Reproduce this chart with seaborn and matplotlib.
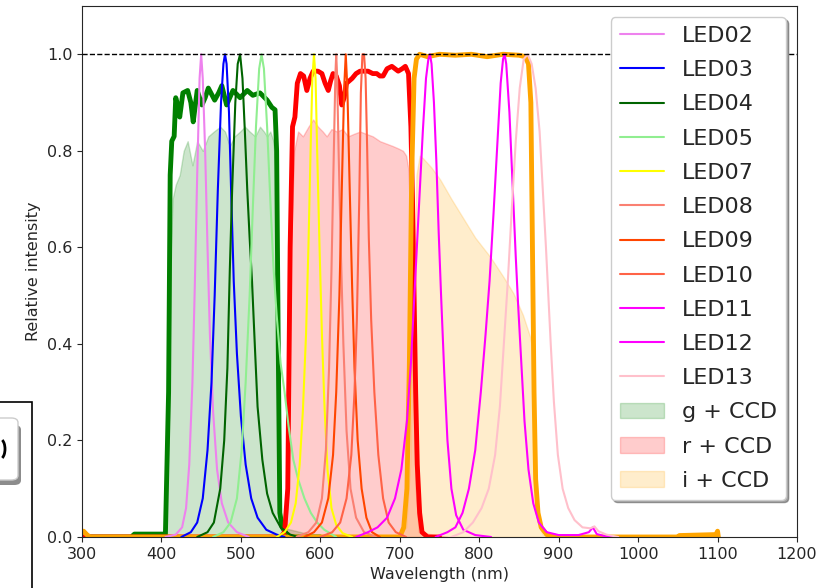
import matplotlib
matplotlib.use("Agg")
import matplotlib.pyplot as plt
from matplotlib.patches import Rectangle, FancyBboxPatch, Arc
import seaborn as sns

# LED spectra (wavelength in nm, relative intensity)
LED02_WL = [405, 418, 426, 431, 435, 439, 442, 445, 448, 450, 452, 455, 458, 461, 465, 470, 476, 484, 495, 510]
LED02_VAL = [0, 0.005, 0.02, 0.06, 0.15, 0.32, 0.52, 0.75, 0.95, 1.0, 0.95, 0.8, 0.6, 0.42, 0.26, 0.14, 0.07, 0.03, 0.01, 0]

LED03_WL = [425, 437, 445, 452, 458, 463, 467, 471, 475, 478, 480, 482, 485, 488, 491, 495, 500, 506, 513, 521, 532, 545, 555]
LED03_VAL = [0, 0.01, 0.03, 0.08, 0.18, 0.32, 0.5, 0.72, 0.9, 0.98, 1.0, 0.98, 0.88, 0.7, 0.53, 0.38, 0.25, 0.15, 0.08, 0.04, 0.015, 0.005, 0]

LED04_WL = [445, 458, 466, 474, 479, 483, 486, 489, 493, 496, 499, 502, 505, 508, 511, 514, 518, 521, 527, 533, 540, 550, 562, 572]
LED04_VAL = [0, 0.01, 0.03, 0.1, 0.2, 0.35, 0.55, 0.72, 0.9, 0.98, 1.0, 0.95, 0.84, 0.72, 0.62, 0.53, 0.38, 0.27, 0.16, 0.09, 0.05, 0.02, 0.005, 0]

LED05_WL = [465, 478, 487, 495, 501, 506, 511, 515, 519, 523, 526, 529, 533, 537, 541, 545, 550, 555, 560, 566, 572, 580, 588, 596, 605, 620]
LED05_VAL = [0, 0.01, 0.03, 0.08, 0.18, 0.32, 0.5, 0.68, 0.85, 0.97, 1.0, 0.97, 0.85, 0.7, 0.56, 0.46, 0.36, 0.3, 0.23, 0.16, 0.12, 0.08, 0.05, 0.03, 0.015, 0]

LED07_WL = [545, 555, 563, 569, 574, 578, 582, 585, 588, 590, 592, 594, 596, 599, 602, 605, 609, 614, 620, 628, 640]
LED07_VAL = [0, 0.01, 0.03, 0.07, 0.15, 0.26, 0.42, 0.6, 0.82, 0.95, 1.0, 0.95, 0.8, 0.6, 0.42, 0.28, 0.14, 0.06, 0.025, 0.008, 0]

LED08_WL = [570, 585, 595, 602, 607, 611, 614, 617, 619, 620, 621, 623, 626, 629, 633, 638, 645, 655, 670]
LED08_VAL = [0, 0.01, 0.03, 0.08, 0.18, 0.35, 0.55, 0.8, 0.96, 1.0, 0.96, 0.8, 0.58, 0.4, 0.22, 0.1, 0.04, 0.01, 0]

LED09_WL = [580, 592, 602, 610, 616, 620, 624, 627, 630, 632, 634, 637, 640, 643, 647, 652, 658, 665, 675]
LED09_VAL = [0, 0.01, 0.03, 0.08, 0.17, 0.3, 0.5, 0.72, 0.93, 1.0, 0.93, 0.72, 0.52, 0.35, 0.2, 0.1, 0.04, 0.01, 0]

LED10_WL = [600, 615, 625, 633, 639, 643, 646, 649, 651, 653, 655, 657, 659, 661, 664, 668, 673, 679, 686, 695, 708]
LED10_VAL = [0, 0.01, 0.03, 0.08, 0.17, 0.3, 0.45, 0.7, 0.92, 1.0, 1.0, 0.95, 0.8, 0.62, 0.45, 0.3, 0.17, 0.08, 0.03, 0.01, 0]

LED11_WL = [645, 660, 672, 684, 694, 702, 709, 714, 719, 724, 729, 733, 736, 738, 740, 743, 746, 749, 752, 756, 760, 765, 771, 780, 795, 815]
LED11_VAL = [0, 0.01, 0.02, 0.04, 0.08, 0.14, 0.24, 0.36, 0.52, 0.68, 0.84, 0.95, 0.99, 1.0, 0.98, 0.9, 0.78, 0.63, 0.5, 0.34, 0.2, 0.1, 0.045, 0.015, 0.004, 0]

LED12_WL = [745, 760, 770, 779, 787, 795, 802, 808, 813, 818, 823, 827, 830, 832, 834, 838, 842, 846, 849, 853, 857, 862, 868, 875, 885, 900, 925, 938, 943, 948, 958, 970]
LED12_VAL = [0, 0.01, 0.02, 0.05, 0.1, 0.18, 0.3, 0.42, 0.53, 0.67, 0.82, 0.94, 0.99, 1.0, 0.98, 0.88, 0.73, 0.58, 0.48, 0.36, 0.24, 0.14, 0.07, 0.03, 0.01, 0.004, 0.004, 0.01, 0.02, 0.006, 0.002, 0]

LED13_WL = [765, 780, 792, 803, 812, 820, 826, 831, 836, 841, 846, 851, 856, 861, 866, 871, 876, 880, 884, 887, 890, 894, 899, 905, 912, 920, 930, 940, 945, 950, 960, 975]
LED13_VAL = [0, 0.01, 0.03, 0.06, 0.1, 0.17, 0.27, 0.4, 0.53, 0.68, 0.82, 0.93, 0.99, 1.0, 0.98, 0.93, 0.84, 0.72, 0.6, 0.5, 0.4, 0.28, 0.17, 0.1, 0.06, 0.035, 0.02, 0.018, 0.022, 0.012, 0.005, 0]

# filter transmission (thick lines)
G_WL = [300, 362, 366, 405, 409, 411, 413, 416, 418, 421, 423, 427, 433, 437, 440, 445, 451, 455, 459, 467, 472, 476, 482, 490, 499, 508, 515, 524, 533, 539, 543, 545, 547, 549, 552, 556, 560, 600]
G_VAL = [0, 0, 0.006, 0.006, 0.3, 0.75, 0.82, 0.83, 0.91, 0.89, 0.87, 0.92, 0.925, 0.9, 0.86, 0.925, 0.895, 0.91, 0.93, 0.905, 0.92, 0.935, 0.895, 0.925, 0.91, 0.925, 0.915, 0.92, 0.905, 0.89, 0.885, 0.8, 0.4, 0.05, 0.02, 0.01, 0, 0]

R_WL = [300, 550, 555, 559, 562, 565, 568, 571, 575, 579, 583, 587, 591, 597, 602, 606, 610, 613, 616, 620, 624, 627, 630, 633, 640, 645, 650, 655, 660, 666, 671, 675, 679, 684, 690, 694, 698, 703, 707, 711, 714, 716, 718, 720, 722, 725, 728, 735, 750]
R_VAL = [0, 0, 0.01, 0.1, 0.6, 0.85, 0.87, 0.94, 0.96, 0.955, 0.925, 0.95, 0.965, 0.965, 0.96, 0.94, 0.925, 0.945, 0.96, 0.955, 0.935, 0.895, 0.91, 0.94, 0.95, 0.96, 0.965, 0.965, 0.965, 0.96, 0.96, 0.955, 0.955, 0.97, 0.975, 0.97, 0.965, 0.97, 0.975, 0.96, 0.85, 0.7, 0.5, 0.3, 0.15, 0.05, 0.01, 0, 0]

I_WL = [300, 302, 306, 310, 700, 705, 709, 712, 715, 718, 721, 725, 735, 750, 770, 790, 810, 830, 850, 858, 862, 865, 867, 869, 871, 874, 878, 885, 900, 1050, 1052, 1098, 1100, 1101]
I_VAL = [0.01, 0.012, 0.005, 0, 0, 0.02, 0.1, 0.35, 0.75, 0.95, 0.99, 1.0, 0.995, 1.0, 0.998, 1.0, 0.995, 1.0, 0.998, 0.995, 0.98, 0.9, 0.6, 0.3, 0.12, 0.05, 0.02, 0.005, 0, 0, 0.003, 0.005, 0.012, 0]

# filter + CCD response (filled)
GF_WL = [300, 405, 409, 412, 414, 418, 423, 428, 433, 439, 445, 452, 459, 466, 474, 480, 486, 492, 499, 505, 511, 518, 524, 529, 533, 537, 541, 544, 546, 548, 551, 600]
GF_VAL = [0, 0, 0.2, 0.6, 0.7, 0.73, 0.75, 0.8, 0.82, 0.77, 0.82, 0.8, 0.83, 0.84, 0.85, 0.84, 0.81, 0.83, 0.84, 0.85, 0.84, 0.83, 0.85, 0.84, 0.83, 0.84, 0.82, 0.75, 0.5, 0.15, 0.02, 0]

RF_WL = [300, 556, 560, 563, 567, 572, 578, 585, 591, 597, 603, 608, 614, 621, 628, 635, 642, 650, 658, 666, 675, 683, 691, 698, 704, 708, 711, 714, 717, 720, 724, 760]
RF_VAL = [0, 0, 0.1, 0.6, 0.8, 0.84, 0.83, 0.85, 0.865, 0.85, 0.84, 0.83, 0.845, 0.84, 0.845, 0.83, 0.835, 0.84, 0.835, 0.83, 0.82, 0.815, 0.81, 0.805, 0.8, 0.79, 0.76, 0.6, 0.3, 0.1, 0.01, 0]

IF_WL = [300, 700, 708, 713, 717, 721, 725, 729, 740, 751, 765, 780, 795, 814, 830, 843, 855, 864, 867, 870, 873, 876, 880, 900]
IF_VAL = [0.005, 0.005, 0.02, 0.15, 0.5, 0.75, 0.79, 0.785, 0.765, 0.74, 0.70, 0.66, 0.62, 0.58, 0.54, 0.505, 0.46, 0.415, 0.39, 0.25, 0.08, 0.02, 0.005, 0]

LED_LABELS = ["LED02", "LED03", "LED04", "LED05", "LED07", "LED08", "LED09", "LED10", "LED11", "LED12", "LED13"]
LED_COLORS = ["violet", "blue", "darkgreen", "lightgreen", "yellow", "salmon", "orangered", "tomato", "magenta", "fuchsia", "pink"]
LED_DATA = [(LED02_WL, LED02_VAL), (LED03_WL, LED03_VAL), (LED04_WL, LED04_VAL), (LED05_WL, LED05_VAL),
            (LED07_WL, LED07_VAL), (LED08_WL, LED08_VAL), (LED09_WL, LED09_VAL), (LED10_WL, LED10_VAL),
            (LED11_WL, LED11_VAL), (LED12_WL, LED12_VAL), (LED13_WL, LED13_VAL)]

sns.set_style("ticks")
plt.rcParams["font.family"] = ["DejaVu Sans"]
plt.rcParams["xtick.labelsize"] = 11.5
plt.rcParams["ytick.labelsize"] = 11.5

fig = plt.figure(figsize=(8.38, 5.88), dpi=100)
ax = fig.add_axes([82 / 838, 51 / 588, 715 / 838, 531 / 588])

# filled filter + CCD curves
fills = []
fills.append(ax.fill_between(GF_WL, GF_VAL, color="green", alpha=0.2, label="g + CCD", zorder=1))
fills.append(ax.fill_between(RF_WL, RF_VAL, color="red", alpha=0.2, label="r + CCD", zorder=1))
fills.append(ax.fill_between(IF_WL, IF_VAL, color="orange", alpha=0.2, label="i + CCD", zorder=1))

# filter curves
for wl, val, c in [(G_WL, G_VAL, "green"), (R_WL, R_VAL, "red"), (I_WL, I_VAL, "orange")]:
    sns.lineplot(x=wl, y=val, color=c, lw=3.5, ax=ax, zorder=2, sort=False)

# LEDs
led_lines = []
for (wl, val), lab, c in zip(LED_DATA, LED_LABELS, LED_COLORS):
    sns.lineplot(x=wl, y=val, color=c, lw=1.5, ax=ax, zorder=3, label=lab, sort=False)
    led_lines.append(ax.lines[-1])

ax.axhline(1.0, color="k", ls="--", lw=1, zorder=4)

ax.set_xlim(300, 1200)
ax.set_ylim(0, 1.1)
ax.set_xticks(range(300, 1201, 100))
ax.set_yticks([0.0, 0.2, 0.4, 0.6, 0.8, 1.0])
ax.set_xlabel("Wavelength (nm)", fontsize=11.5)
ax.set_ylabel("Relative intensity", fontsize=11.5)

handles = led_lines + fills
labels = LED_LABELS + ["g + CCD", "r + CCD", "i + CCD"]
leg = ax.legend(handles, labels, loc="upper right", fontsize=16, shadow=True,
                framealpha=1, labelspacing=0.64, handlelength=2.0)
leg.set_zorder(10)

# leftover piece of a neighbouring panel at the left edge
fig.add_artist(Rectangle((-0.05, -0.05), 0.05 + 32 / 838, 0.05 + 186 / 588,
                         transform=fig.transFigure, fill=False, edgecolor="k", lw=1.2))
fig.add_artist(FancyBboxPatch((-0.05, 103 / 588), 0.05 + 21 / 838, 60 / 588,
                              boxstyle="round,pad=0,rounding_size=0.008", transform=fig.transFigure,
                              facecolor="0.55", edgecolor="none"))
fig.add_artist(FancyBboxPatch((-0.05, 108 / 588), 0.05 + 18 / 838, 62 / 588,
                              boxstyle="round,pad=0,rounding_size=0.008", transform=fig.transFigure,
                              facecolor="white", edgecolor="0.8", lw=1))
fig.add_artist(Arc((0 / 838, 139 / 588), 10 / 838, 20 / 588, theta1=-80, theta2=80,
                   transform=fig.transFigure, color="k", lw=2))

fig.savefig("out.png", dpi=100)
